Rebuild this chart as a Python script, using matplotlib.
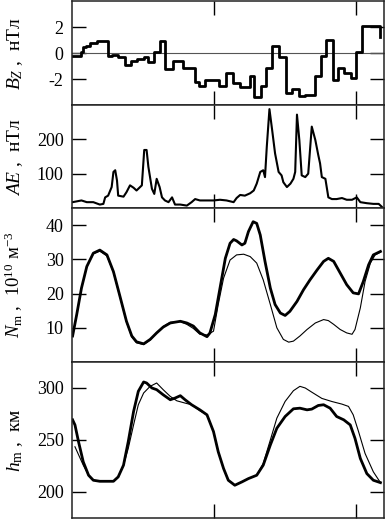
import matplotlib
matplotlib.use("Agg")
import matplotlib.pyplot as plt

plt.rcParams['font.family'] = ['Liberation Serif', 'DejaVu Serif']
plt.rcParams['mathtext.fontset'] = 'custom'
plt.rcParams['mathtext.rm'] = 'Liberation Serif'
plt.rcParams['mathtext.it'] = 'Liberation Serif:italic'
plt.rcParams['axes.unicode_minus'] = False

# ---------------- data (time in hours) ----------------
bz_t = [0.0, 1.6, 1.9, 2.4, 3.0, 4.2, 6.0, 6.7, 7.8, 9.0, 9.9, 10.9, 12.1, 12.9, 13.9,
        14.9, 15.7, 17.0, 18.8, 20.7, 21.4, 22.5, 24.9, 26.0, 27.2, 28.3, 30.0, 30.8,
        31.9, 32.8, 33.7, 35.0, 36.2, 37.2, 38.3, 39.4, 41.0, 42.0, 42.9, 44.1, 45.0,
        46.0, 47.2, 47.9, 49.0, 51.2, 51.7, 52.1]
bz_v = [-0.2, 0.1, 0.45, 0.55, 0.75, 0.9, -0.25, -0.13, -0.3, -0.95, -0.6, -0.45, -0.3,
        -0.7, 0.05, 0.9, -1.2, -0.6, -1.15, -2.2, -2.5, -2.05, -2.5, -1.55, -2.3, -2.6,
        -1.75, -3.4, -2.55, -1.15, 0.55, -0.3, -3.1, -2.8, -3.3, -3.2, -1.75, -0.2, 1.0,
        -2.05, -1.15, -1.5, -1.9, 0.05, 2.05, 2.1, 2.1, 1.2]

ae_t = [0.1, 1.6, 2.5, 3.6, 4.7, 5.3, 5.6, 6.1, 6.7, 7.0, 7.3, 7.6, 7.8, 8.7, 9.2, 9.8,
        10.4, 10.9, 11.2, 11.8, 12.2, 12.6, 12.9, 13.5, 13.9, 14.3, 14.8, 15.2, 15.7,
        16.3, 16.9, 17.4, 18.3, 19.4, 20.2, 20.8, 21.6, 22.8, 23.9, 25.0, 26.1, 27.3,
        27.8, 28.4, 29.2, 30.1, 30.7, 31.2, 31.8, 32.3, 32.6, 32.9, 33.35, 33.8, 34.3,
        34.9, 35.4, 35.7, 36.3, 36.9, 37.4, 37.7, 38.0, 38.4, 38.8, 39.4, 39.9, 40.5,
        41.1, 41.6, 41.9, 42.2, 42.8, 43.3, 43.9, 44.7, 45.6, 46.4, 47.3, 48.1, 48.7,
        49.8, 50.9, 51.8, 52.3]
ae_v = [17, 22, 17, 17, 10, 12, 31, 36, 61, 105, 110, 80, 36, 33, 46, 66,
        59, 51, 56, 66, 169, 169, 120, 56, 41, 85, 61, 31, 22,
        17, 31, 10, 10, 7, 17, 26, 22, 22, 22, 24, 22, 17,
        29, 38, 36, 43, 51, 71, 105, 110, 90, 178, 288, 228, 159,
        105, 95, 75, 61, 71, 85, 105, 272, 198, 95, 90, 100, 237,
        198, 154, 130, 90, 85, 31, 26, 26, 29, 24, 24, 31, 17,
        14, 12, 12, 4]

nm_t = [0.1, 0.8, 1.6, 2.5, 3.6, 4.7, 5.9, 7.0, 8.1, 9.2, 10.1, 10.9, 12.1, 13.2, 14.3,
        15.4, 16.6, 18.3, 19.4, 20.5, 21.6, 22.8, 23.3, 24.2, 25.0, 25.9, 26.7, 27.3,
        27.8, 28.7, 29.2, 29.8, 30.6, 31.2, 31.8, 32.6, 33.5, 34.3, 35.2, 36.0, 36.8,
        38.0, 39.1, 40.2, 41.4, 42.5, 43.3, 44.2, 45.3, 46.4, 47.5, 48.4, 49.2, 50.1,
        50.9, 52.1]
nm_obs = [7.6, 13.9, 21.6, 27.9, 31.8, 32.7, 31.3, 26.4, 19.2, 11.9, 7.6, 5.9, 5.3, 6.6,
          8.5, 10.2, 11.4, 11.9, 11.4, 10.5, 8.5, 7.4, 8.5, 13.9, 21.6, 30.3, 34.7, 35.8,
          35.4, 34.2, 34.7, 38.1, 41.0, 40.5, 37.1, 29.4, 21.6, 16.8, 14.3, 13.6, 14.8,
          17.7, 21.1, 24.0, 26.9, 29.4, 30.3, 29.4, 26.0, 22.6, 20.2, 19.9, 23.5, 28.4,
          31.3, 32.3]

nm_mod_t = [0.1, 0.8, 1.6, 2.5, 3.6, 4.7, 5.9, 7.0, 8.1, 9.2, 10.1, 10.9, 12.1, 13.2,
            14.3, 15.4, 16.6, 18.3, 19.4, 20.5, 21.6, 22.8, 23.9, 24.7, 25.6, 26.7, 27.8,
            29.0, 30.1, 31.2, 32.3, 33.5, 34.6, 35.7, 36.6, 37.4, 38.5, 39.7, 41.1, 42.5,
            43.3, 44.2, 45.3, 46.4, 47.3, 47.8, 48.7, 49.5, 50.4, 51.2, 52.1]
nm_mod = [7.6, 13.9, 21.6, 27.9, 31.6, 32.4, 31.0, 26.2, 19.0, 11.7, 7.3, 5.6, 5.1, 6.4,
          8.6, 10.4, 11.6, 11.8, 11.0, 9.8, 8.1, 7.9, 9.0, 16.8, 24.5, 29.8, 31.3,
          31.5, 30.8, 28.9, 24.0, 16.8, 10.0, 6.6, 5.8, 6.1, 7.6, 9.5, 11.4, 12.4,
          12.1, 11.0, 9.5, 8.5, 8.1, 9.5, 15.8, 23.5, 28.9, 31.3, 32.1]

hm_t = [0.1, 0.5, 1.1, 1.9, 2.8, 3.6, 4.7, 5.9, 7.0, 7.8, 8.7, 9.5, 10.4, 11.2, 12.1,
        12.6, 13.5, 14.3, 15.4, 16.6, 17.4, 18.3, 19.1, 20.2, 21.6, 22.8, 23.9, 24.7,
        25.6, 26.4, 27.5, 28.7, 29.8, 31.2, 32.3, 33.5, 34.6, 36.0, 37.4, 38.5, 39.7,
        40.5, 41.6, 42.5, 43.6, 44.7, 45.9, 47.0, 47.8, 48.7, 49.8, 50.9, 52.1]
hm_obs = [269.4, 264.5, 248.4, 229.0, 216.1, 211.3, 210.3, 210.3, 210.3, 214.5, 225.8,
          248.4, 277.4, 296.8, 305.8, 304.8, 300.0, 298.4, 293.5, 288.7, 290.3, 292.6,
          288.7, 283.9, 279.0, 274.2, 258.1, 238.7, 222.6, 211.3, 206.5, 209.7, 212.9,
          216.1, 225.8, 245.2, 261.3, 272.6, 280.0, 280.6, 279.0, 279.7, 283.2, 283.9,
          280.6, 272.6, 269.4, 264.5, 251.6, 232.3, 217.7, 211.3, 209.0]

hm_mod_t = [0.5, 1.9, 2.8, 3.6, 4.7, 5.9, 7.0, 7.8, 8.7, 9.5, 10.4, 11.2, 12.1, 13.2,
            14.3, 15.4, 16.6, 17.7, 19.1, 20.2, 21.6, 22.8, 23.9, 24.7, 25.6, 26.4,
            27.5, 28.7, 29.8, 31.2, 32.3, 33.5, 34.6, 36.0, 37.4, 38.5, 39.4, 40.5,
            42.2, 43.9, 45.6, 46.7, 47.5, 48.4, 49.5, 50.9, 52.1]
hm_mod = [243.5, 225.8, 216.1, 211.3, 210.3, 210.3, 210.3, 214.5, 225.8, 241.9, 264.5,
          283.9, 295.2, 301.6, 304.8, 298.4, 291.9, 287.7, 285.5, 283.9, 278.1, 274.2,
          258.1, 238.7, 222.6, 211.3, 206.5, 209.7, 212.9, 216.1, 227.4, 250.0, 271.0,
          287.1, 297.4, 301.6, 300.0, 296.0, 290.0, 287.0, 284.5, 282.3, 274.2, 258.1,
          237.1, 219.4, 209.0]

x_ticks = [24, 48]
x_lim = (0, 52.7)

# ---------------- figure ----------------
W, H = 388, 520
fig = plt.figure(figsize=(W / 100, H / 100), dpi=100)

left = 72 / W
width = 312 / W
def pos(top_px, bot_px):
    return [left, 1 - bot_px / H, width, (bot_px - top_px) / H]

ax1 = fig.add_axes(pos(1, 105))
ax2 = fig.add_axes(pos(105, 208))
ax3 = fig.add_axes(pos(208, 362))
ax4 = fig.add_axes(pos(362, 518))

for ax in (ax1, ax2, ax3, ax4):
    ax.set_xlim(*x_lim)
    ax.set_xticks(x_ticks)
    ax.tick_params(axis='both', direction='in', length=10, width=1.0,
                   top=True, right=True, labelbottom=False, labelsize=13, pad=6)
    for s in ax.spines.values():
        s.set_linewidth(1.1)
        s.set_color('#222222')

# Bz
ax1.axhline(0, color='#555555', lw=0.8)
ax1.step(bz_t, bz_v, where='post', color='black', lw=2.0)
ax1.set_ylim(-4, 4)
ax1.set_yticks([-2, 0, 2])
ax1.set_ylabel(r'$B_Z$ ,  нТл', fontsize=14)

# AE
ax2.plot(ae_t, ae_v, color='black', lw=1.5)
ax2.set_ylim(0, 300)
ax2.set_yticks([100, 200])
ax2.set_ylabel(r'$AE$ ,  нТл', fontsize=14)

# Nm
ax3.plot(nm_mod_t, nm_mod, color='black', lw=0.8)
ax3.plot(nm_t, nm_obs, color='black', lw=2.0)
ax3.set_ylim(0, 45)
ax3.set_yticks([10, 20, 30, 40])
ax3.set_ylabel(r'$N_{\rm m}$ ,  $10^{10}$ м$^{-3}$', fontsize=13.5)

# hm
ax4.plot(hm_mod_t, hm_mod, color='black', lw=0.8)
ax4.plot(hm_t, hm_obs, color='black', lw=2.0)
ax4.set_ylim(175, 325)
ax4.set_yticks([200, 250, 300])
ax4.set_ylabel(r'$h_{\rm m}$ ,  км', fontsize=14)

for ax in (ax1, ax2, ax3, ax4):
    ax.yaxis.set_label_coords(-0.15, 0.5)

fig.savefig('out.png', dpi=100)
